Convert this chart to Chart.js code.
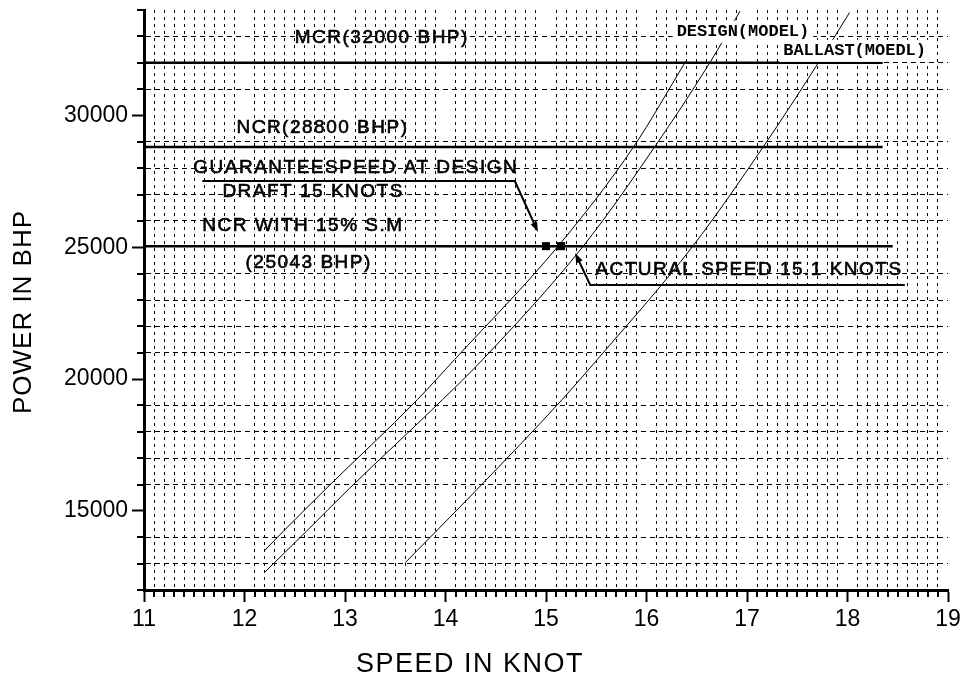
<!DOCTYPE html>
<html>
<head>
<meta charset="utf-8">
<title>Speed - Power</title>
<script src="https://cdn.jsdelivr.net/npm/chart.js@4.4.1/dist/chart.umd.min.js"></script>
<style>
  html, body { margin: 0; padding: 0; background: #fff; }
  #wrap { width: 967px; height: 679px; }
</style>
</head>
<body>
<div id="wrap"><canvas id="powerChart" width="967" height="679"></canvas></div>
<script>
// Speed (knots) / power (BHP) curves from the model tests
const marginSpeed  = [12.2, 12.4, 12.8, 13.72, 14.09, 15.12, 15.87, 16.39];
const marginPower  = [13500, 14280, 15800, 19220, 20740, 25040, 28800, 32050];
const designSpeed  = [12.2, 12.63, 13.03, 13.97, 14.37, 15.37, 16.08, 16.63, 16.93];
const designPower  = [12670, 14280, 15800, 19220, 20740, 25040, 28800, 32000, 33950];
const ballastSpeed = [13.6, 13.92, 14.31, 15.16, 15.51, 16.46, 17.16, 17.71, 18.02];
const ballastPower = [13040, 14280, 15800, 19220, 20740, 25040, 28800, 32000, 33900];

// Engine ratings drawn as horizontal lines
const ratingNames  = ['MCR', 'NCR', 'NCR WITH 15% S.M'];
const ratingPower  = [32000, 28800, 25043];
const ratingEnd    = [18.35, 18.35, 18.45];

// Guaranteed and achieved speed at NCR with sea margin
const markerSpeed  = [15.0, 15.15];

// Axis ranges and ticks
const speedMin = 11, speedMax = 19, speedStep = 0.1;
const powerMin = 12000, powerMax = 34000, powerStep = 1000, powerLabelStep = 5000;

const FONT = "'Liberation Sans', Arial, sans-serif";
const TICK_FONT = { family: FONT, size: 23 };

const isWhole = v => Math.abs(v - Math.round(v)) < 1e-6;
const isPowerLabel = v => Math.abs(v / powerLabelStep - Math.round(v / powerLabelStep)) < 1e-6;
const toPoints = (xs, ys) => xs.map((x, i) => ({ x, y: ys[i] }));

// text notes and leader lines, in data coordinates
const notes = [
  { text: 'MCR(32000 BHP)', x: 12.50, y: 32940 },
  { text: 'NCR(28800 BHP)', x: 11.92, y: 29520 },
  { text: 'GUARANTEESPEED AT DESIGN', x: 11.49, y: 28010 },
  { text: 'DRAFT 15 KNOTS', x: 11.78, y: 27100 },
  { text: 'NCR WITH 15% S.M', x: 11.58, y: 25810 },
  { text: '(25043 BHP)', x: 12.01, y: 24400 },
  { text: 'ACTURAL SPEED 15.1 KNOTS', x: 15.49, y: 24140 },
];
const curveTags = [
  { text: 'DESIGN(MODEL)', x: 16.30, y: 33170 },
  { text: 'BALLAST(MOEDL)', x: 17.36, y: 32450 },
];
const leaders = [
  [[11.58, 27510], [14.69, 27510], [14.92, 25580]],
  [[18.57, 23570], [15.44, 23570], [15.29, 24780]],
];

function drawArrow(ctx, pts) {
  const n = pts.length;
  const [ax, ay] = pts[n - 2], [bx, by] = pts[n - 1];
  const ang = Math.atan2(by - ay, bx - ax);
  const c = Math.cos(ang), s = Math.sin(ang);
  const len = 10, half = 3.5;
  ctx.beginPath();
  pts.forEach((p, i) => {
    if (i === n - 1) ctx.lineTo(bx - c * len * 0.6, by - s * len * 0.6);
    else if (i) ctx.lineTo(p[0], p[1]);
    else ctx.moveTo(p[0], p[1]);
  });
  ctx.stroke();
  ctx.beginPath();
  ctx.moveTo(bx, by);
  ctx.lineTo(bx - c * len + s * half, by - s * len - c * half);
  ctx.lineTo(bx - c * len - s * half, by - s * len + c * half);
  ctx.closePath();
  ctx.fill();
}

const decorations = {
  id: 'decorations',
  afterDatasetsDraw(chart) {
    const { ctx, chartArea: area, scales: { x, y } } = chart;
    ctx.save();
    ctx.strokeStyle = '#000';
    ctx.fillStyle = '#000';

    // minor tick marks (major ones come from the scales)
    ctx.lineWidth = 2;
    ctx.beginPath();
    x.ticks.forEach(t => {
      if (isWhole(t.value)) return;
      const px = Math.round(x.getPixelForValue(t.value));
      ctx.moveTo(px, area.bottom);
      ctx.lineTo(px, area.bottom + 7);
    });
    y.ticks.forEach(t => {
      if (isPowerLabel(t.value)) return;
      const py = Math.round(y.getPixelForValue(t.value));
      ctx.moveTo(area.left, py);
      ctx.lineTo(area.left - 7, py);
    });
    ctx.stroke();

    // leader lines with arrow heads
    ctx.lineWidth = 2;
    leaders.forEach(l => drawArrow(ctx, l.map(([vx, vy]) => [x.getPixelForValue(vx), y.getPixelForValue(vy)])));

    // notes, slightly heavier than plain text
    ctx.font = `19px ${FONT}`;
    ctx.letterSpacing = '1.5px';
    ctx.textAlign = 'left';
    ctx.textBaseline = 'middle';
    ctx.lineWidth = 0.6;
    notes.forEach(n => {
      const px = x.getPixelForValue(n.x), py = y.getPixelForValue(n.y);
      ctx.fillText(n.text, px, py);
      ctx.strokeText(n.text, px, py);
    });

    // curve names on a white ground
    ctx.letterSpacing = '0px';
    ctx.font = "bold 17px 'Liberation Mono', monospace";
    curveTags.forEach(t => {
      const px = x.getPixelForValue(t.x), py = y.getPixelForValue(t.y);
      const w = ctx.measureText(t.text).width;
      ctx.fillStyle = '#fff';
      ctx.fillRect(px - 4, py - 11, w + 8, 22);
      ctx.fillStyle = '#000';
      ctx.fillText(t.text, px, py);
    });

    // axis titles
    ctx.textAlign = 'center';
    ctx.font = `27px ${FONT}`;
    ctx.letterSpacing = '1.5px';
    ctx.fillText('SPEED IN KNOT', 470, 665);
    ctx.translate(24, 312);
    ctx.rotate(-Math.PI / 2);
    ctx.font = `26px ${FONT}`;
    ctx.letterSpacing = '1px';
    ctx.fillText('POWER IN BHP', 0, 0);
    ctx.restore();
  }
};

const curveStyle = { borderColor: '#000', borderWidth: 1, pointRadius: 0, cubicInterpolationMode: 'monotone', fill: false };
const ratingStyle = { borderColor: '#000', borderWidth: 2.5, pointRadius: 0, fill: false };

Chart.defaults.color = '#000';

new Chart(document.getElementById('powerChart'), {
  type: 'line',
  data: {
    datasets: [
      { label: 'SEA MARGIN', data: toPoints(marginSpeed, marginPower), ...curveStyle },
      { label: 'DESIGN(MODEL)', data: toPoints(designSpeed, designPower), ...curveStyle },
      { label: 'BALLAST(MOEDL)', data: toPoints(ballastSpeed, ballastPower), ...curveStyle },
      ...ratingNames.map((name, i) => ({
        label: name,
        data: [{ x: speedMin, y: ratingPower[i] }, { x: ratingEnd[i], y: ratingPower[i] }],
        ...ratingStyle,
      })),
      {
        label: 'SPEED',
        data: markerSpeed.map(s => ({ x: s, y: ratingPower[2] })),
        showLine: false,
        pointStyle: 'rect',
        pointRadius: 5.7,
        pointBackgroundColor: '#000',
        pointBorderWidth: 0,
      },
    ],
  },
  options: {
    responsive: false,
    animation: false,
    devicePixelRatio: 1,
    layout: { padding: { top: 10, right: 19, bottom: 0, left: 0 } },
    plugins: { legend: { display: false }, tooltip: { enabled: false } },
    scales: {
      x: {
        type: 'linear',
        min: speedMin,
        max: speedMax,
        afterFit: s => { s.height = 89; s.paddingLeft = 0; s.paddingRight = 0; },
        ticks: {
          stepSize: speedStep,
          autoSkip: false,
          maxRotation: 0,
          padding: 4,
          font: TICK_FONT,
          callback: v => (isWhole(v) ? String(Math.round(v)) : ''),
        },
        grid: {
          color: c => (c.tick && !isWhole(c.tick.value) ? '#000' : 'rgba(0,0,0,0)'),
          lineWidth: 1,
          tickLength: 12,
          tickWidth: 2,
          tickColor: c => (c.tick && isWhole(c.tick.value) ? '#000' : 'rgba(0,0,0,0)'),
        },
        border: { color: '#000', width: 3, dash: [3, 4] },
      },
      y: {
        type: 'linear',
        min: powerMin,
        max: powerMax,
        afterFit: s => { s.width = 144; s.paddingTop = 0; s.paddingBottom = 0; },
        ticks: {
          stepSize: powerStep,
          autoSkip: false,
          padding: 4,
          font: TICK_FONT,
          callback: v => (isPowerLabel(v) && v > powerMin && v < powerMax ? String(v) : ''),
        },
        grid: {
          color: c => {
            const v = c.tick ? c.tick.value : powerMin;
            return isPowerLabel(v) || v <= powerMin || v >= powerMax ? 'rgba(0,0,0,0)' : '#000';
          },
          lineWidth: 1,
          tickLength: 12,
          tickWidth: 2,
          tickColor: c => (c.tick && isPowerLabel(c.tick.value) ? '#000' : 'rgba(0,0,0,0)'),
        },
        border: { color: '#000', width: 3, dash: [5, 4] },
      },
    },
  },
  plugins: [decorations],
});
</script>
</body>
</html>
